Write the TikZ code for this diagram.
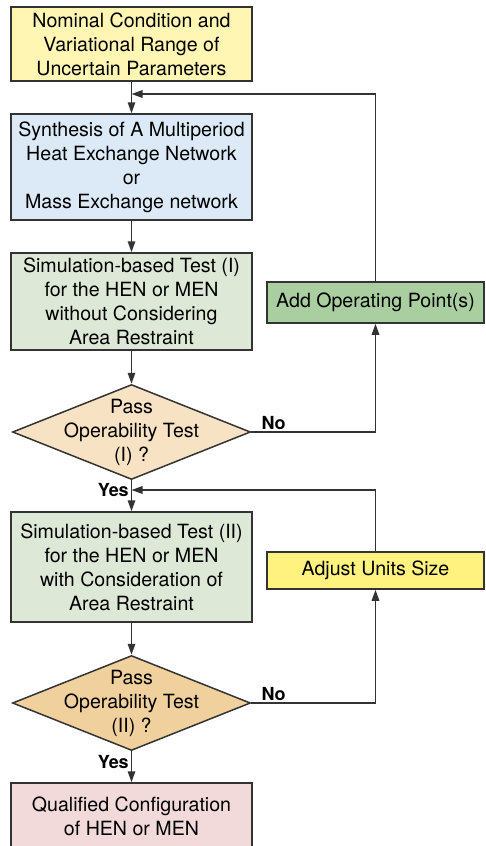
\documentclass[tikz,border=0pt]{standalone}
\usepackage{fontspec}
\setmainfont{TeX Gyre Heros}
\usetikzlibrary{arrows.meta,positioning,shapes.geometric}
\definecolor{inyel}{HTML}{FFF6B4}
\definecolor{synblue}{HTML}{DCEAF7}
\definecolor{simgreen}{HTML}{DDE8D6}
\definecolor{peach}{HTML}{F8E2C4}
\definecolor{tan}{HTML}{F0D19E}
\definecolor{addgreen}{HTML}{A9CFA1}
\definecolor{adjyel}{HTML}{FFF27E}
\definecolor{qpink}{HTML}{F2DADB}
\definecolor{ink}{HTML}{333333}
\newcommand{\boxfont}{\fontsize{19.6}{24}\selectfont}
\tikzset{
  >={Triangle[length=11pt,width=7.5pt]},
  box/.style  ={rectangle, draw=ink, line width=1.5pt, inner sep=0pt,
                minimum width=241pt, font=\boxfont, align=center},
  side/.style ={rectangle, draw=ink, line width=1.5pt, inner sep=0pt,
                minimum width=217pt, font=\boxfont, align=center},
  dec/.style  ={diamond, draw=ink, line width=1.5pt, inner sep=0pt,
                minimum width=238pt, minimum height=95pt},
  dtxt/.style ={font=\boxfont, align=center},
  con/.style  ={->, draw=ink, line width=1.5pt},
  lbl/.style  ={font=\fontsize{18}{20}\selectfont\bfseries, inner sep=2pt},
}
\begin{document}
\begin{tikzpicture}[x=1pt,y=-1pt]
\useasboundingbox (0,0) rectangle (485,846);
\clip (0,0) rectangle (485,846);
% ---- main column ----------------------------------------------------
\node[box, fill=inyel, minimum height=74pt]    (b1) at (131.5,44)
  {Nominal Condition and\\Variational Range of\\Uncertain Parameters};
\node[box, fill=synblue, minimum height=106pt] (b2) at (131.5,167)
  {Synthesis of A Multiperiod\\Heat Exchange Network\\or\\Mass Exchange network};
\node[box, fill=simgreen, minimum height=97pt] (b3) at (131.5,301.5)
  {Simulation-based Test (I)\\for the HEN or MEN\\without Considering\\Area Restraint};
\node[dec, fill=peach, label={[dtxt]center:{Pass\\Operability Test\\(I) ?}}]
  (d1) at (131.5,432) {};
\node[box, fill=simgreen, minimum height=110pt] (b4) at (131.5,567)
  {Simulation-based Test (II)\\for the HEN or MEN\\with Consideration of\\Area Restraint};
\node[dec, fill=tan, label={[dtxt]center:{Pass\\Operability Test\\(II) ?}}]
  (d2) at (131.5,703) {};
\node[box, fill=qpink, minimum height=66pt]    (b5) at (131.5,816)
  {Qualified Configuration\\of HEN or MEN};

% ---- correction steps (right) ---------------------------------------
\node[side, fill=addgreen, minimum height=41pt] (op)  at (375.5,302.5)
  {Add Operating Point(s)};
\node[side, fill=adjyel, minimum height=37pt]   (adj) at (375.5,570.5)
  {Adjust Units Size};

% junctions where the loops come back
\coordinate (j1) at (131.5,94);
\coordinate (j2) at (131.5,490);

\draw[con] (b1) -- (b2);
\draw[con] (b2) -- (b3);
\draw[con] (b3) -- (d1);
\draw[con] (d1) -- node[lbl,pos=0.33,left] {Yes} (b4);
\draw[con] (d1.east) -| node[lbl,pos=0.09,above] {No} (op.south);
\draw[con] (op.north) |- (j1);
\draw[con] (b4) -- (d2);
\draw[con] (d2) -- node[lbl,pos=0.36,left] {Yes} (b5);
\draw[con] (d2.east) -| node[lbl,pos=0.09,above] {No} (adj.south);
\draw[con] (adj.north) |- (j2);
\end{tikzpicture}
\end{document}
